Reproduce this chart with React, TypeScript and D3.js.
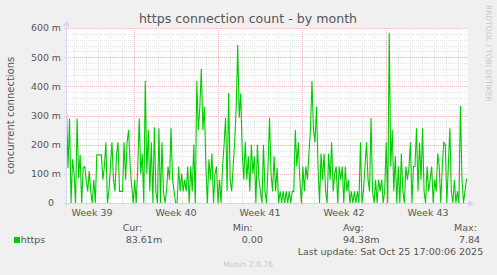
import React from "react";
import * as d3 from "d3";

const TITLE = "https connection count - by month";
const Y_LABEL = "concurrent connections";
const SERIES_NAME = "https";
const SERIES_COLOR = "#00CC00";
const END_TIME = Date.UTC(2025, 9, 25, 17, 0, 6);
const SPAN_MS = 400 * 7200 * 1000;

const Y_TICKS = [0, 100, 200, 300, 400, 500, 600];
const Y_TICK_LABELS = ["0", "100 m", "200 m", "300 m", "400 m", "500 m", "600 m"];

// values in milli-connections (m), 3-hour steps
const VALUES_A = [320,120,290,0,150,100,0,290,86,165,0,120,125,80,40,110,40,0,80,0,165,165,165,165,80,125,208,0,40,125,208,80,40,165,208,40,40,40,208,80,208,250,125];
const VALUES_B = [60,0,80,0,120,290,100,170,0,418,100,250,40,208,0,260,40,0,256,0,208,40,0,40,125,80,256,80,40,0,0,125,40,100,40,80,40,125,0,125,40,200,0];
const VALUES_C = [418,250,330,460,250,330,125,0,150,80,170,0,100,125,0,80,0,125,200,292,40,377,80,40,125,210,330,542,292,375,170,80,210,80,160,40,200,100,160,0,200,80,40,0];
const VALUES_D = [200,40,0,125,292,100,40,160,40,120,0,40,0,40,0,40,0,40,0,40,40,250,125,208,80,0,125,40,125,80,170,250,418,250,208,330,125,0,170,80,170,40,0,170,80,208];
const VALUES_E = [40,100,125,0,125,80,125,0,125,40,80,0,40,0,40,0,40,0,208,0,40,125,208,80,40,292,40,0,80,0,80,40,80,0,40,208,0,583,125,250,40,160,0];
const VALUES_F = [125,0,170,40,0,125,80,120,208,0,125,125,256,40,208,80,256,40,0,125,40,80,125,0,80,40,170,125,0,125,208,200,0,125,256,40,0,80,0,40,0,333,80,0,40,83.61];
const VALUES = [...VALUES_A, ...VALUES_B, ...VALUES_C, ...VALUES_D, ...VALUES_E, ...VALUES_F];

const LEGEND_HEADERS = ["Cur:", "Min:", "Avg:", "Max:"];
const LEGEND_VALUES = ["83.61m", "0.00", "94.38m", "7.84"];
const LAST_UPDATE = "Last update: Sat Oct 25 17:00:06 2025";
const FOOTER = "Munin 2.0.76";
const WATERMARK = "RRDTOOL / TOBI OETIKER";

// layout
const W = 497, H = 275;
const PL = 66.5, PR = 466.5, PT = 28, PB = 203;
const HEADER_X = [122.7, 232.7, 343, 454];
const VALUE_X = [125.7, 241.7, 343, 459];
const FONT = "'DejaVu Sans', Verdana, sans-serif";
const TEXT = "#555555";
const AXIS = "#CFD6F8";
const MINOR = "#e2e2e2";
const MAJOR = "#ecb4b4";

export default function App() {
  const start = new Date(END_TIME - SPAN_MS);
  const end = new Date(END_TIME);
  const x = d3.scaleUtc().domain([start, end]).range([PL, PR]);
  const y = d3.scaleLinear().domain([0, 600]).range([PB, PT]);

  const n = VALUES.length;
  const times = VALUES.map((_, i) => new Date(start.getTime() + (i * SPAN_MS) / (n - 1)));
  const line = d3
    .line<number>()
    .x((_, i) => x(times[i]))
    .y((d) => y(d));

  const days = d3.utcDay.range(start, end).filter((d) => d.getUTCDay() !== 0);
  const weeks = d3.utcSunday.range(start, end);
  const weekStarts = d3.utcSunday.range(d3.utcSunday.floor(start), end);
  const weekLabels = weekStarts
    .map((w) => new Date(w.getTime() + 3.5 * 86400000))
    .filter((m) => m >= start && m <= end);
  const fmt = d3.utcFormat("Week %V");

  const minorY = d3.range(0, 601, 20).filter((v) => v % 100 !== 0);
  const majorY = Y_TICKS;

  return (
    <svg width={W} height={H} style={{ position: "absolute", left: 0, top: 0 }} fontFamily={FONT}>
      <rect x={0} y={0} width={W} height={H} fill="#F0F0F0" />
      <rect x={PL} y={PT} width={PR - PL + 1} height={PB - PT} fill="#FFFFFF" />
      {/* minor grid */}
      <g stroke={MINOR} strokeWidth={1} strokeDasharray="1 1" shapeRendering="crispEdges">
        {minorY.map((v) => (
          <line key={"hy" + v} x1={PL - 2.5} x2={PR + 1.5} y1={Math.round(y(v)) + 0.5} y2={Math.round(y(v)) + 0.5} />
        ))}
        {days.map((d) => (
          <line key={"vx" + d.getTime()} x1={Math.round(x(d)) + 0.5} x2={Math.round(x(d)) + 0.5} y1={PT} y2={PB + 2} />
        ))}
      </g>
      {/* major grid */}
      <g stroke={MAJOR} strokeWidth={1} strokeDasharray="1 1" shapeRendering="crispEdges">
        {majorY.map((v) => (
          <line key={"my" + v} x1={PL - 2.5} x2={PR + 1.5} y1={Math.round(y(v)) + 0.5} y2={Math.round(y(v)) + 0.5} />
        ))}
        {weeks.map((d) => (
          <line key={"mx" + d.getTime()} x1={Math.round(x(d)) + 0.5} x2={Math.round(x(d)) + 0.5} y1={PT} y2={PB + 2} />
        ))}
      </g>
      {/* data */}
      <path d={line(VALUES) || ""} fill="none" stroke={SERIES_COLOR} strokeWidth={1.1} strokeLinejoin="miter" />
      {/* axes */}
      <g stroke={AXIS} strokeWidth={1} shapeRendering="crispEdges">
        <line x1={PL - 3} x2={PR + 3} y1={PB + 0.5} y2={PB + 0.5} />
        <line x1={PL} x2={PL} y1={PB + 3} y2={PT - 3} />
      </g>
      <path d={`M${PR + 2},${PB - 3} L${PR + 7},${PB + 0.5} L${PR + 2},${PB + 4} Z`} fill={AXIS} />
      <path d={`M${PL - 3.5},${PT - 2} L${PL},${PT - 7} L${PL + 3.5},${PT - 2} Z`} fill={AXIS} />
      {/* y tick labels */}
      <g fill={TEXT} fontSize={9.4}>
        {Y_TICKS.map((v, i) => (
          <text key={"yl" + v} x={v === 0 ? 54 : 61} y={y(v) + 3.4} textAnchor="end">
            {Y_TICK_LABELS[i]}
          </text>
        ))}
      </g>
      {/* x labels */}
      <g fill={TEXT} fontSize={9.5}>
        {weekLabels.map((m) => (
          <text key={"xl" + m.getTime()} x={x(m)} y={216.2} textAnchor="middle">
            {fmt(m)}
          </text>
        ))}
      </g>
      {/* title */}
      <text x={248} y={22.5} textAnchor="middle" fontSize={12.6} fill={TEXT}>
        {TITLE}
      </text>
      {/* y axis label */}
      <text transform={`translate(14.3,${(PT + PB) / 2}) rotate(-90)`} textAnchor="middle" fontSize={10} fill={TEXT}>
        {Y_LABEL}
      </text>
      {/* watermark */}
      <text transform="translate(485.8,5) rotate(90)" fontSize={7.5} fill="#c8c8c8">
        {WATERMARK}
      </text>
      {/* legend */}
      <rect x={14} y={237} width={6} height={6} fill={SERIES_COLOR} />
      <g fill={TEXT} fontSize={9.5}>
        <text x={20.7} y={243.4}>{SERIES_NAME}</text>
        {LEGEND_HEADERS.map((h, i) => (
          <text key={h} x={HEADER_X[i]} y={230.7}>{h}</text>
        ))}
        {LEGEND_VALUES.map((v, i) => (
          <text key={"lv" + i} x={VALUE_X[i]} y={243.4}>{v}</text>
        ))}
        <text x={297.7} y={255.1}>{LAST_UPDATE}</text>
      </g>
      <text x={248} y={266.8} textAnchor="middle" fontSize={7.6} fill="#c8c8c8">
        {FOOTER}
      </text>
    </svg>
  );
}
